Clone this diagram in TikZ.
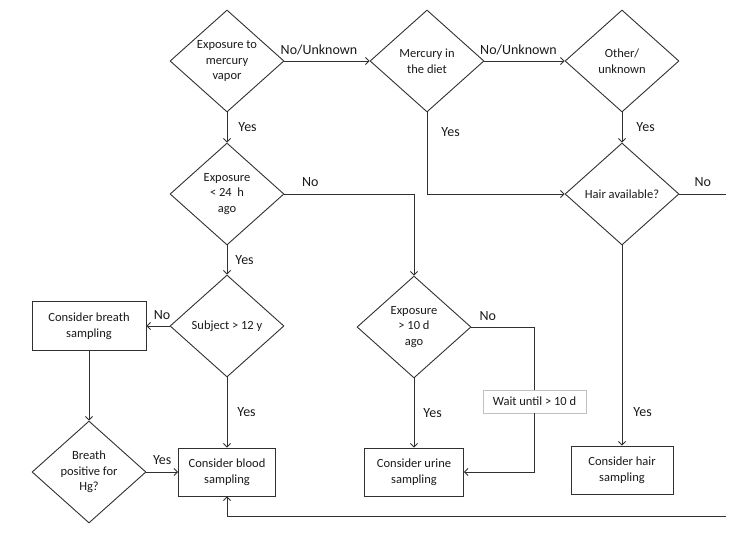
\documentclass[tikz,border=0pt]{standalone}
\usepackage{fontspec}
\setmainfont{Carlito}
\usetikzlibrary{shapes.geometric, arrows.meta}
\definecolor{MyLine}{HTML}{303030}
\definecolor{MyText}{HTML}{1A1A1A}
\definecolor{MyGrey}{HTML}{C0C0C0}

\begin{document}
\begin{tikzpicture}[x=1pt, y=-1pt, every node/.style={font=\fontsize{12.5}{15.5}\selectfont, text=MyText},
	question/.style={diamond, draw=MyLine, line width=0.9pt, aspect=1.12, inner sep=0pt, minimum width=114pt, minimum height=102pt, align=center},
	action/.style={rectangle, draw=MyLine, line width=0.9pt, inner sep=2pt, minimum height=48pt, align=center},
	arr/.style={-{Straight Barb[length=3.5pt, width=7pt]}, draw=MyLine, line width=0.9pt},
	lbl/.style={inner sep=2pt, text depth=0pt, font=\fontsize{14}{17}\selectfont}]
	\useasboundingbox (0,0) rectangle (739,533);

	\node[question] (vapor) at (227,61) {Exposure to\\mercury\\vapor};
	\node[question] (diet) at (427,61) {Mercury in\\the diet};
	\node[question] (other) at (622,61) {Other/\\unknown};
	\node[question] (recent) at (227,194) {Exposure\\< 24\ \ h\\ago};
	\node[question] (hair) at (622,194) {Hair available?};
	\node[question] (age) at (227,326) {Subject > 12 y};
	\node[question] (tenday) at (414,327) {Exposure\\> 10 d\\ago};
	\node[question] (breathpos) at (89,472) {Breath\\positive for\\Hg?};

	\node[action, minimum width=114pt, minimum height=49pt] (breath) at (89,326) {Consider breath\\sampling};
	\node[action, minimum width=97pt] (blood) at (227,472) {Consider blood\\sampling};
	\node[action, minimum width=99pt] (urine) at (414,472) {Consider urine\\sampling};
	\node[action, minimum width=102pt] (hairbox) at (622,470) {Consider hair\\sampling};
	\node[draw=MyGrey, fill=white, line width=0.8pt, minimum width=103pt, minimum height=23pt, inner sep=2pt] (wait) at (534.5,401.5) {Wait until > 10 d};

	\coordinate (hairend) at (726,194);
	\coordinate (loopend) at (726,516);

	\draw[arr] (vapor.east) -- (diet.west) node[lbl, midway, above=4pt, xshift=-8pt] {No/Unknown};
	\draw[arr] (diet.east) -- (other.west) node[lbl, midway, above=4pt, xshift=-6pt] {No/Unknown};
	\draw[arr] (vapor.south) -- (recent.north) node[lbl, midway, right, xshift=9pt] {Yes};
	\draw[arr] (diet.south) |- (hair.west) node[lbl, pos=0.12, right, xshift=12pt] {Yes};
	\draw[arr] (other.south) -- (hair.north) node[lbl, midway, right, xshift=12pt] {Yes};
	\draw[MyLine, line width=0.9pt] (hair.east) -- (hairend) node[lbl, midway, above=5pt] {No};
	\draw[arr] (hair.south) -- (hairbox.north) node[lbl, pos=0.83, right, xshift=9pt] {Yes};

	\draw[arr] (recent.east) -| (tenday.north) node[lbl, pos=0.1, above=5pt] {No};
	\draw[arr] (recent.south) -- (age.north) node[lbl, midway, right, xshift=6pt] {Yes};
	\draw[arr] (age.west) -- (breath.east) node[lbl, midway, above=4pt, xshift=4pt] {No};
	\draw[arr] (age.south) -- (blood.north) node[lbl, midway, right, xshift=8pt] {Yes};
	\draw[arr] (breath.south) -- (breathpos.north);
	\draw[arr] (breathpos.east) -- (blood.west) node[lbl, midway, above=5pt] {Yes};

	\draw[arr] (tenday.south) -- (urine.north) node[lbl, midway, right, xshift=7pt] {Yes};
	\draw[MyLine, line width=0.9pt] (tenday.east) -| (wait.north) node[lbl, pos=0.13, above=4pt] {No};
	\draw[arr] (wait.south) |- (urine.east);
	\draw[arr] (loopend) -| (blood.south);
\end{tikzpicture}
\end{document}
